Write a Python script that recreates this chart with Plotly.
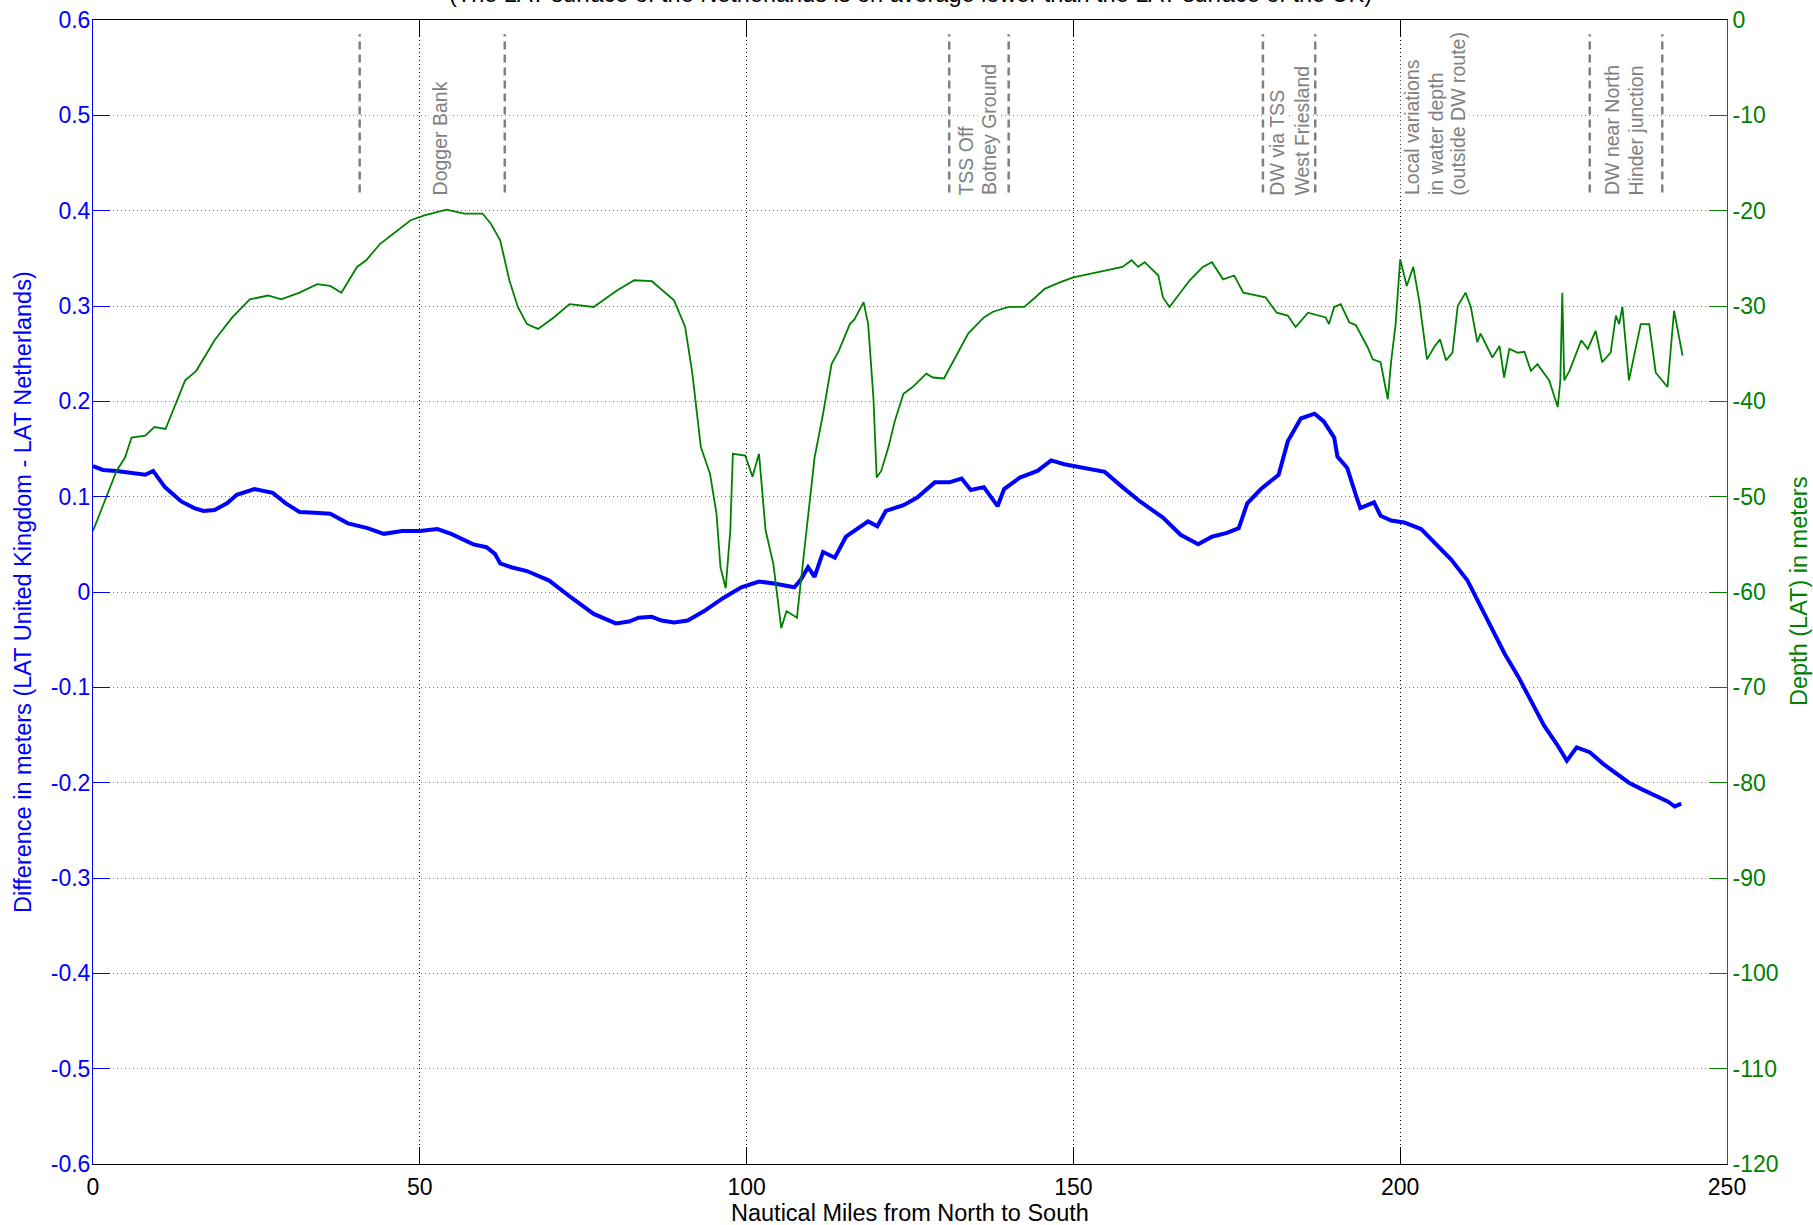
import plotly.graph_objects as go

# ---------------- data ----------------
diff_x = [0, 1.5, 3.6, 6, 8, 9.2, 10, 11, 13.5, 15.5, 16.9, 18.6, 20.5, 22, 24.7, 27.5, 29.5,
          31.6, 34, 36.3, 39, 42, 44.5, 47.3, 50, 52.7, 54.8, 56.5, 58.2, 60.2, 61.5, 62.3,
          64, 66.4, 69.8, 73.2, 76.6, 80, 82, 83.5, 85.5, 87, 88.9, 91, 93.5, 96.5, 99.2,
          101.9, 104.2, 107.3, 108.3, 109.4, 110.4, 111.7, 113.5, 115.2, 118.6, 120, 121.3,
          124, 126.1, 128.8, 131, 132.9, 134.3, 136.3, 138.4, 139.4, 141.8, 144.5, 146.6,
          148.6, 151.4, 154.8, 157.5, 160.2, 163.7, 166.4, 169.1, 171.2, 173.5, 175.3, 176.6,
          178.7, 181.4, 182.8, 184.8, 186.9, 188.3, 189.9, 190.4, 191.9, 193.2, 193.9, 196,
          197, 198.6, 200.6, 203.2, 205.2, 207.8, 210.3, 213.4, 216, 218, 220, 222, 224,
          225.5, 227, 229, 231, 233, 235, 237, 239, 241, 242, 243]
diff_y = [0.132, 0.128, 0.127, 0.125, 0.123, 0.127, 0.12, 0.11, 0.095, 0.088, 0.085, 0.086,
          0.093, 0.102, 0.108, 0.104, 0.093, 0.084, 0.083, 0.082, 0.072, 0.067, 0.061, 0.064,
          0.064, 0.066, 0.061, 0.056, 0.05, 0.047, 0.04, 0.03, 0.026, 0.022, 0.012, -0.006,
          -0.023, -0.033, -0.031, -0.027, -0.026, -0.03, -0.032, -0.03, -0.02, -0.006, 0.005,
          0.011, 0.009, 0.005, 0.013, 0.026, 0.016, 0.042, 0.036, 0.058, 0.074, 0.069, 0.085,
          0.091, 0.099, 0.115, 0.115, 0.119, 0.107, 0.11, 0.09, 0.108, 0.12, 0.127, 0.138,
          0.134, 0.13, 0.126, 0.11, 0.095, 0.078, 0.06, 0.05, 0.058, 0.062, 0.067, 0.093,
          0.108, 0.123, 0.158, 0.182, 0.187, 0.179, 0.162, 0.142, 0.13, 0.102, 0.088, 0.094,
          0.08, 0.075, 0.073, 0.066, 0.052, 0.034, 0.012, -0.03, -0.065, -0.088, -0.113, -0.14,
          -0.16, -0.177, -0.163, -0.168, -0.18, -0.19, -0.2, -0.207, -0.213, -0.22, -0.225,
          -0.222]

depth_x = [0, 2.2, 3.6, 4.9, 5.9, 8, 9.4, 11.1, 12.4, 14.1, 15.8, 18.6, 21.3, 24, 26.8, 28.8,
           31.6, 34.3, 36.3, 38, 40.4, 41.8, 43.9, 45.9, 48.6, 50.7, 54.1, 56.8, 59.6, 60.9,
           62.3, 63.7, 65, 66.4, 68.1, 70.5, 72.9, 76.6, 80.1, 82.8, 85.5, 88.9, 90.6, 91.7,
           93, 94.4, 95.4, 96, 96.8, 97.5, 97.9, 99.8, 100.9, 101.9, 102.9, 104.1, 105.3,
           106.1, 107.7, 108.3, 109.4, 110.4, 111.7, 113, 114.1, 115.8, 116.5, 117.9, 118.6,
           119.4, 119.9, 120.6, 121.7, 122.7, 124, 125.4, 127.5, 128.5, 130.2, 132.2, 133.9,
           136.3, 137.7, 140.1, 142.5, 144.5, 145.6, 148, 150, 153.4, 157.5, 158.9, 159.9,
           160.9, 163, 163.7, 164.7, 167.8, 169.8, 171.2, 172.9, 174.6, 176, 179.4, 181.1,
           182.8, 184, 185.9, 188.6, 189.1, 189.9, 190.9, 192.2, 193.2, 195, 195.8, 197,
           198.1, 198.6, 199.3, 200, 201, 202, 202.9, 204.1, 205.2, 206.1, 207, 208, 208.8,
           210, 210.8, 211.8, 212.3, 214.1, 215.2, 215.9, 216.7, 218, 219, 220, 221, 222.8,
           224.1, 224.5, 224.8, 225.1, 225.9, 226.9, 227.7, 228.7, 229.9, 230.9, 232.2, 233,
           233.5, 234, 235, 236.8, 238.1, 239.1, 240.9, 241.9, 243.2]
depth_y = [-53.6, -49.7, -47.3, -45.9, -43.8, -43.6, -42.7, -42.9, -40.6, -37.8, -36.8, -33.6,
           -31.2, -29.3, -28.9, -29.3, -28.6, -27.7, -27.9, -28.6, -25.9, -25.2, -23.5, -22.4,
           -21, -20.5, -19.9, -20.3, -20.3, -21.4, -23.1, -27.3, -30.1, -31.9, -32.4, -31.2,
           -29.8, -30.1, -28.4, -27.3, -27.4, -29.4, -32.2, -37.1, -44.8, -47.6, -51.8, -57.4,
           -59.6, -53.6, -45.5, -45.7, -47.9, -45.5, -53.5, -57.1, -63.8, -62, -62.7, -58.9,
           -51.8, -45.9, -41.3, -36.1, -34.7, -31.9, -31.4, -29.6, -31.9, -39.6, -48, -47.3,
           -44.8, -42, -39.2, -38.5, -37.1, -37.5, -37.6, -35, -32.9, -31.2, -30.6, -30.1,
           -30.1, -28.9, -28.2, -27.5, -27, -26.5, -25.9, -25.2, -25.9, -25.4, -26.8, -29.1,
           -30.1, -27.3, -25.9, -25.4, -27.2, -26.8, -28.6, -29.1, -30.7, -31, -32.2, -30.7,
           -31.2, -31.9, -30.1, -29.8, -31.7, -32, -34.3, -35.6, -35.9, -39.8, -35.9, -31.9,
           -25.1, -27.9, -25.9, -29.4, -35.6, -34.3, -33.5, -35.7, -34.9, -30, -28.6, -30.1,
           -33.8, -32.9, -35.4, -34.2, -37.5, -34.5, -34.9, -34.8, -36.8, -36.1, -37.8, -40.6,
           -37.8, -28.6, -37.8, -36.8, -35, -33.6, -34.5, -32.6, -35.9, -34.9, -31, -31.9,
           -30.1, -37.8, -31.9, -31.9, -37, -38.5, -30.5, -35.2]

# vertical dashed markers (nautical miles)
marker_x = [40.8, 63.0, 131.0, 140.1, 179.0, 187.0, 229.0, 240.1]
# region labels: one entry per text line
label_text = ["Dogger Bank", "TSS Off", "Botney Ground", "DW via TSS", "West Friesland",
              "Local variations", "in water depth", "(outside DW route)",
              "DW near North", "Hinder junction"]
label_x = [53.1, 133.6, 137.1, 181.2, 185.0, 201.9, 205.5, 208.9, 232.5, 236.1]

x_ticks = [0, 50, 100, 150, 200, 250]
x_ticktext = ["0", "50", "100", "150", "200", "250"]
y1_ticks = [0.6, 0.5, 0.4, 0.3, 0.2, 0.1, 0, -0.1, -0.2, -0.3, -0.4, -0.5, -0.6]
y1_ticktext = ["0.6", "0.5", "0.4", "0.3", "0.2", "0.1", "0", "-0.1", "-0.2", "-0.3",
               "-0.4", "-0.5", "-0.6"]
y2_ticks = [0, -10, -20, -30, -40, -50, -60, -70, -80, -90, -100, -110, -120]
y2_ticktext = ["0", "-10", "-20", "-30", "-40", "-50", "-60", "-70", "-80", "-90",
               "-100", "-110", "-120"]

title_text = "(The LAT surface of the Netherlands is on average lower than the LAT surface of the UK)"
x_title = "Nautical Miles from North to South"
y1_title = "Difference in meters (LAT United Kingdom - LAT Netherlands)"
y2_title = "Depth (LAT) in meters"

# ---------------- figure ----------------
FONT = "Liberation Sans, Arial, Helvetica, sans-serif"
BLUE = "rgb(0,0,255)"
GREEN = "rgb(0,128,0)"
GRAY = "rgb(128,128,128)"
TICK = 23
LAB = 23.5

fig = go.Figure()
fig.add_trace(go.Scatter(x=diff_x, y=diff_y, mode="lines",
                         line=dict(color=BLUE, width=4), yaxis="y", showlegend=False))
fig.add_trace(go.Scatter(x=depth_x, y=depth_y, mode="lines",
                         line=dict(color=GREEN, width=1.8), yaxis="y2", showlegend=False))

shapes = []
for mx in marker_x:
    shapes.append(dict(type="line", xref="x", yref="y", x0=mx, x1=mx, y0=0.419, y1=0.585,
                       line=dict(color=GRAY, width=2.5, dash="8px,5px")))

annotations = []
for t, lx in zip(label_text, label_x):
    annotations.append(dict(text=t, x=lx, y=0.415, xref="x", yref="y", textangle=-90,
                            xanchor="center", yanchor="bottom", showarrow=False,
                            bgcolor="white", borderpad=0,
                            font=dict(family=FONT, size=19.5, color=GRAY)))
annotations.append(dict(text=title_text, x=0.5, y=1.0094, xref="paper", yref="paper",
                        xanchor="center", yanchor="bottom", showarrow=False,
                        font=dict(family=FONT, size=LAB, color="black")))
annotations.append(dict(text=x_title, x=0.5, y=0, xref="paper", yref="paper",
                        xanchor="center", yanchor="middle", yshift=-49, showarrow=False,
                        font=dict(family=FONT, size=LAB, color="black")))
annotations.append(dict(text=y1_title, x=0, y=0.5, xref="paper", yref="paper",
                        xanchor="center", yanchor="middle", xshift=-70, textangle=-90,
                        showarrow=False, font=dict(family=FONT, size=LAB, color=BLUE)))
annotations.append(dict(text=y2_title, x=1, y=0.5, xref="paper", yref="paper",
                        xanchor="center", yanchor="middle", xshift=72, textangle=-90,
                        showarrow=False, font=dict(family=FONT, size=LAB, color=GREEN)))

fig.update_layout(
    width=1813, height=1225,
    margin=dict(l=93, r=86, t=20, b=61, autoexpand=False),
    paper_bgcolor="white", plot_bgcolor="white",
    font=dict(family=FONT, size=TICK, color="black"),
    shapes=shapes, annotations=annotations,
    xaxis=dict(range=[0, 250], tickvals=x_ticks, ticktext=x_ticktext,
               showline=True, linecolor="black", linewidth=1, mirror="ticks",
               ticks="inside", ticklen=17, tickcolor="black", ticklabelstandoff=2,
               ticklabeloverflow="allow",
               showgrid=True, gridcolor="black", griddash="1px,3px", gridwidth=1,
               zeroline=False, tickfont=dict(size=TICK, color="black")),
    yaxis=dict(range=[-0.6, 0.6], tickvals=y1_ticks, ticktext=y1_ticktext,
               showline=True, linecolor=BLUE, linewidth=1,
               ticks="inside", ticklen=17, tickcolor=BLUE, ticklabelstandoff=-3,
               ticklabeloverflow="allow",
               showgrid=True, gridcolor="rgba(50,50,170,0.7)", griddash="1px,3px", gridwidth=1,
               zeroline=False, tickfont=dict(size=TICK, color=BLUE)),
    yaxis2=dict(range=[-120, 0], tickvals=y2_ticks, ticktext=y2_ticktext,
                overlaying="y", side="right",
                showline=True, linecolor=GREEN, linewidth=1,
                ticks="inside", ticklen=17, tickcolor=GREEN,
                ticklabeloverflow="allow",
                showgrid=False, zeroline=False, tickfont=dict(size=TICK, color=GREEN)),
)

fig.write_html("out.html",
               config={"displayModeBar": False},
               post_script="document.body.style.margin='0px';"
                           "document.body.style.overflow='hidden';")
